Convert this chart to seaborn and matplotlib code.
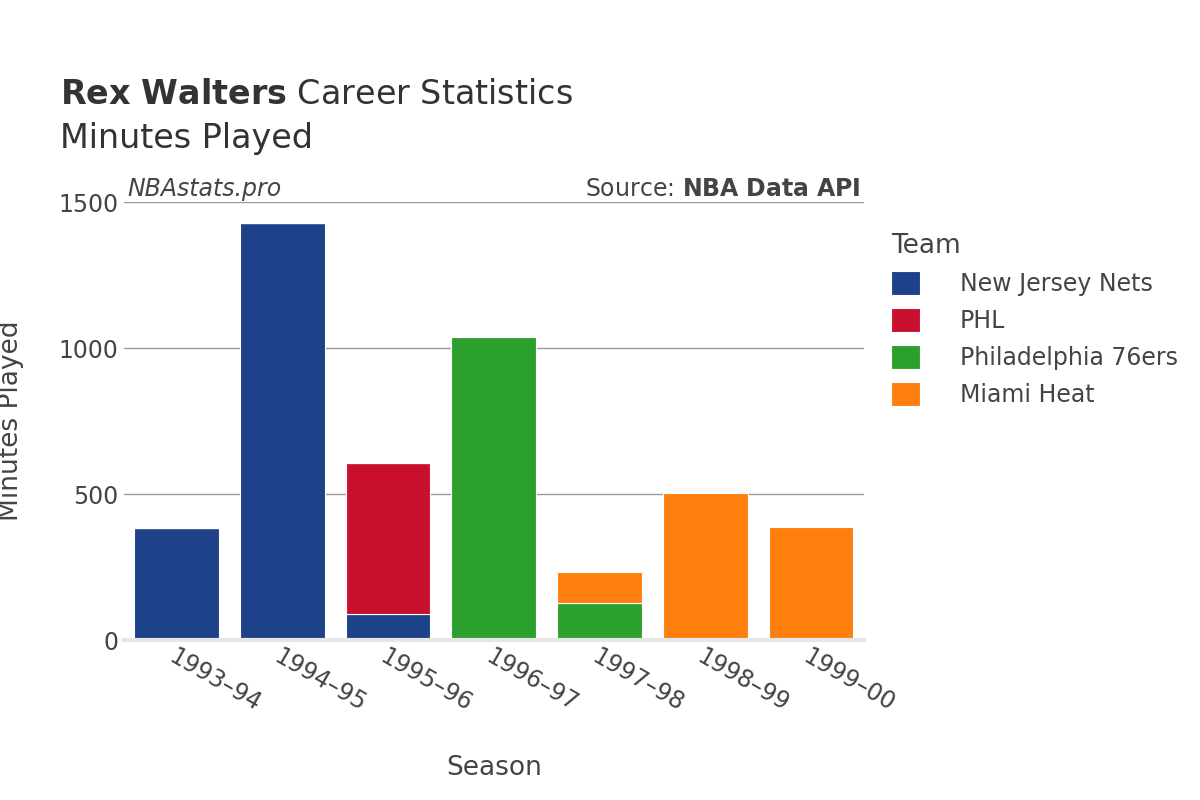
import numpy as np
import pandas as pd
import seaborn as sns
import matplotlib.pyplot as plt

seasons = ['1993–94', '1994–95', '1995–96', '1996–97', '1997–98', '1998–99', '1999–00']
teams = ['New Jersey Nets', 'PHL', 'Philadelphia 76ers', 'Miami Heat']
colors = ['#1d428a', '#c8102e', '#2ca02c', '#ff7f0e']
nets = [383, 1431, 89, 0, 0, 0, 0]
phl = [0, 0, 517, 0, 0, 0, 0]
sixers = [0, 0, 0, 1038, 127, 0, 0]
heat = [0, 0, 0, 0, 106, 503, 387]

sns.set_theme(style='white', font='DejaVu Sans')
fig = plt.figure(figsize=(12, 8), dpi=100)
ax = fig.add_axes([0.103, 0.2, 0.617, 0.547])

bottom = np.zeros(len(seasons))
for team, vals, c in zip(teams, [nets, phl, sixers, heat], colors):
    df = pd.DataFrame({'season': seasons, 'minutes': vals})
    sns.barplot(data=df, x='season', y='minutes', bottom=bottom, color=c, saturation=1,
                width=0.8, edgecolor='white', linewidth=0.8, ax=ax, label=team)
    bottom = bottom + np.array(vals)

ax.set_ylim(0, 1500)
ax.set_xlim(-0.5, 6.5)
ax.set_yticks([0, 500, 1000, 1500])
ax.yaxis.grid(True, color='#999999', linewidth=1)
ax.set_axisbelow(True)
for s in ['top', 'right', 'left']:
    ax.spines[s].set_visible(False)
ax.spines['bottom'].set_color('#e6e6e6')
ax.spines['bottom'].set_linewidth(3)
ax.tick_params(axis='both', labelsize=17, colors='#444444', length=0)
plt.setp(ax.get_xticklabels(), rotation=-30, ha='left', rotation_mode='anchor')
ax.set_xlabel('Season', fontsize=19, color='#444444', labelpad=28)
ax.set_ylabel('Minutes Played', fontsize=19, color='#444444', labelpad=25)

ax.text(0.005, 1.003, 'NBAstats.pro', transform=ax.transAxes, fontsize=17,
        style='italic', color='#444444', va='bottom')
ax.text(0.995, 1.003, 'Source: $\\bf{NBA\\ Data\\ API}$', transform=ax.transAxes,
        fontsize=17, color='#444444', va='bottom', ha='right')

fig.text(0.05, 0.87, '$\\bf{Rex\\ Walters}$ Career Statistics', fontsize=24, color='#333333')
fig.text(0.05, 0.815, 'Minutes Played', fontsize=24, color='#333333')

handles, labels = ax.get_legend_handles_labels()
leg = fig.legend(handles, labels, title='Team', loc='upper left', bbox_to_anchor=(0.725, 0.735),
                 frameon=False, fontsize=17, title_fontsize=19, handlelength=1.2,
                 handleheight=1.2, labelspacing=0.5, handletextpad=1.7)
leg._legend_box.align = 'left'
for t in leg.get_texts():
    t.set_color('#444444')
leg.get_title().set_color('#444444')
if ax.get_legend():
    ax.get_legend().remove()

fig.savefig('out.png', dpi=100)
